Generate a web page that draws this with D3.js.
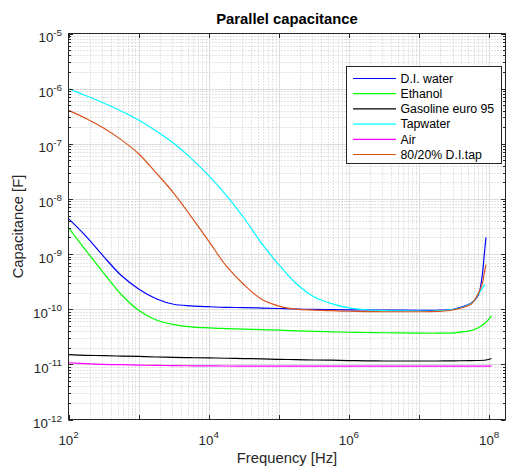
<!DOCTYPE html>
<html>
<head>
<meta charset="utf-8">
<script src="https://cdn.jsdelivr.net/npm/d3@7"></script>
<style>
  html, body { margin: 0; padding: 0; background: #fff; }
  svg { display: block; font-family: "Liberation Sans", Arial, Helvetica, sans-serif; }
</style>
</head>
<body>
<svg id="chart" width="511" height="466"></svg>
<script>
// Measurement frequencies shared by every sweep (Hz), four points per decade
const freqHz = [1e2, 1.78e2, 3.16e2, 5.62e2, 1e3, 1.78e3, 3.16e3, 5.62e3,
                1e4, 1.78e4, 3.16e4, 5.62e4, 1e5, 1.78e5, 3.16e5, 5.62e5,
                1e6, 1.78e6, 3.16e6, 5.62e6, 1e7, 1.78e7, 3.16e7, 5.62e7];

// Parallel capacitance (F) on the shared grid
const diWater  = [4.39e-9, 2.10e-9, 9.11e-10, 4.12e-10, 2.33e-10, 1.55e-10, 1.23e-10, 1.15e-10,
                  1.11e-10, 1.08e-10, 1.07e-10, 1.05e-10, 1.03e-10, 1.01e-10, 9.90e-11, 9.81e-11,
                  9.73e-11, 9.69e-11, 9.65e-11, 9.61e-11, 9.57e-11, 9.57e-11, 1.01e-10, 1.31e-10];
const ethanol  = [3.02e-9, 1.15e-9, 4.57e-10, 1.87e-10, 9.57e-11, 6.36e-11, 5.27e-11, 4.79e-11,
                  4.59e-11, 4.46e-11, 4.35e-11, 4.28e-11, 4.16e-11, 4.05e-11, 3.97e-11, 3.89e-11,
                  3.82e-11, 3.78e-11, 3.74e-11, 3.71e-11, 3.68e-11, 3.67e-11, 3.73e-11, 4.12e-11];
const gasoline = [1.50e-11, 1.46e-11, 1.44e-11, 1.41e-11, 1.39e-11, 1.36e-11, 1.34e-11, 1.32e-11,
                  1.31e-11, 1.29e-11, 1.27e-11, 1.26e-11, 1.23e-11, 1.22e-11, 1.20e-11, 1.19e-11,
                  1.17e-11, 1.16e-11, 1.15e-11, 1.15e-11, 1.15e-11, 1.15e-11, 1.16e-11, 1.17e-11];
const tapwater = [9.95e-7, 7.43e-7, 5.48e-7, 3.94e-7, 2.70e-7, 1.71e-7, 1.02e-7, 5.43e-8,
                  2.64e-8, 1.16e-8, 4.56e-9, 1.60e-9, 6.39e-10, 2.89e-10, 1.68e-10, 1.26e-10,
                  1.06e-10, 9.77e-11, 9.45e-11, 9.33e-11, 9.29e-11, 9.37e-11, 9.98e-11, 1.29e-10];
const air      = [1.07e-11, 1.03e-11, 1.00e-11, 9.85e-12, 9.69e-12, 9.57e-12, 9.49e-12, 9.41e-12,
                  9.37e-12, 9.33e-12, 9.29e-12, 9.29e-12, 9.26e-12, 9.26e-12, 9.26e-12, 9.26e-12,
                  9.26e-12, 9.26e-12, 9.26e-12, 9.26e-12, 9.26e-12, 9.26e-12, 9.26e-12, 9.26e-12];
const mix8020  = [4.03e-7, 2.88e-7, 1.93e-7, 1.19e-7, 6.61e-8, 2.97e-8, 1.28e-8, 4.79e-9,
                  1.72e-9, 6.08e-10, 2.81e-10, 1.53e-10, 1.14e-10, 1.00e-10, 9.65e-11, 9.41e-11,
                  9.18e-11, 9.07e-11, 8.99e-11, 8.99e-11, 8.99e-11, 9.10e-11, 9.77e-11, 1.26e-10];

// High-frequency end of each sweep (Hz, F)
const diWaterTailHz  = [7e7, 8e7, 8.5e7, 9e7];
const diWaterTail    = [1.79e-10, 4.30e-10, 9.5e-10, 2.01e-9];
const ethanolTailHz  = [7e7, 9e7, 1.08e8];
const ethanolTail    = [4.61e-11, 5.80e-11, 7.55e-11];
const gasolineTailHz = [9e7, 1.08e8];
const gasolineTail   = [1.20e-11, 1.28e-11];
const tapwaterTailHz = [7e7, 8e7, 8.7e7];
const tapwaterTail   = [1.87e-10, 2.40e-10, 2.80e-10];
const airTailHz      = [1.08e8];
const airTail        = [9.26e-12];
const mix8020TailHz  = [7e7, 8e7, 8.5e7, 9e7];
const mix8020Tail    = [1.95e-10, 2.95e-10, 4.48e-10, 6.44e-10];

const seriesNames  = ["D.I. water", "Ethanol", "Gasoline euro 95", "Tapwater", "Air", "80/20% D.I.tap"];
const seriesColors = ["#0000ff", "#00ff00", "#000000", "#00ffff", "#ff00ff", "#d95319"];

const xTickValues = [1e2, 1e4, 1e6, 1e8];
const xTickExps   = ["2", "4", "6", "8"];
const yTickValues = [1e-12, 1e-11, 1e-10, 1e-9, 1e-8, 1e-7, 1e-6, 1e-5];
const yTickExps   = ["-12", "-11", "-10", "-9", "-8", "-7", "-6", "-5"];

const series = [
  { f: freqHz.concat(diWaterTailHz),  c: diWater.concat(diWaterTail) },
  { f: freqHz.concat(ethanolTailHz),  c: ethanol.concat(ethanolTail) },
  { f: freqHz.concat(gasolineTailHz), c: gasoline.concat(gasolineTail) },
  { f: freqHz.concat(tapwaterTailHz), c: tapwater.concat(tapwaterTail) },
  { f: freqHz.concat(airTailHz),      c: air.concat(airTail) },
  { f: freqHz.concat(mix8020TailHz),  c: mix8020.concat(mix8020Tail) }
].map((s, i) => ({ name: seriesNames[i], color: seriesColors[i],
                   pts: s.f.map((f, j) => [f, s.c[j]]) }));

const pL = 68.5, pR = 505.5, pT = 33.5, pB = 419.5;
const svg = d3.select("#chart");
const axisColor = "#262626";

const x = d3.scaleLog().domain([1e2, 1.71e8]).range([pL, pR]);
const y = d3.scaleLog().domain([1e-12, 1e-5]).range([pB, pT]);

// Minor values (2..9 x decade) inside the axes
function minors(lo, hi) {
  const out = [];
  for (let e = Math.floor(Math.log10(lo)); e <= Math.ceil(Math.log10(hi)); e++) {
    for (let k = 2; k <= 9; k++) {
      const v = k * Math.pow(10, e);
      if (v > lo && v < hi) out.push(v);
    }
  }
  return out;
}
const xMinor = minors(1e2, 1.71e8);
const yMinor = minors(1e-12, 1e-5);
const xMajor = [1e2, 1e3, 1e4, 1e5, 1e6, 1e7, 1e8];

const grid = svg.append("g");
// minor grid, dotted
grid.selectAll(".xm").data(xMinor).enter().append("line")
  .attr("x1", d => Math.round(x(d)) + 0.5).attr("x2", d => Math.round(x(d)) + 0.5)
  .attr("y1", pT).attr("y2", pB)
  .attr("stroke", "#c9c9c9").attr("stroke-dasharray", "1,2");
grid.selectAll(".ym").data(yMinor).enter().append("line")
  .attr("y1", d => Math.round(y(d)) + 0.5).attr("y2", d => Math.round(y(d)) + 0.5)
  .attr("x1", pL).attr("x2", pR)
  .attr("stroke", "#c9c9c9").attr("stroke-dasharray", "1,2");
// major grid, solid
grid.selectAll(".xM").data(xMajor.filter(v => v > 1e2)).enter().append("line")
  .attr("x1", d => Math.round(x(d)) + 0.5).attr("x2", d => Math.round(x(d)) + 0.5)
  .attr("y1", pT).attr("y2", pB)
  .attr("stroke", "#dcdcdc").attr("stroke-width", 1);
grid.selectAll(".yM").data(yTickValues.slice(1, -1)).enter().append("line")
  .attr("y1", d => Math.round(y(d)) + 0.5).attr("y2", d => Math.round(y(d)) + 0.5)
  .attr("x1", pL).attr("x2", pR)
  .attr("stroke", "#dcdcdc").attr("stroke-width", 1);

// data lines, smooth through every measured point
const line = d3.line()
  .x(d => x(d[0])).y(d => y(d[1]))
  .curve(d3.curveCatmullRom.alpha(0.5));
svg.append("g").selectAll("path").data(series).enter().append("path")
  .attr("d", d => line(d.pts))
  .attr("fill", "none")
  .attr("stroke", d => d.color)
  .attr("stroke-width", 1.2)
  .attr("stroke-linejoin", "round");

// axes box and inward ticks
const ax = svg.append("g").attr("stroke", axisColor).attr("fill", "none");
ax.append("rect").attr("x", pL).attr("y", pT)
  .attr("width", pR - pL).attr("height", pB - pT).attr("stroke-width", 1);
const maj = 4.5, mnr = 2.5;
xMajor.forEach(v => {
  const px = Math.round(x(v)) + 0.5;
  ax.append("line").attr("x1", px).attr("x2", px).attr("y1", pB).attr("y2", pB - maj);
  ax.append("line").attr("x1", px).attr("x2", px).attr("y1", pT).attr("y2", pT + maj);
});
yTickValues.forEach(v => {
  const py = Math.round(y(v)) + 0.5;
  ax.append("line").attr("y1", py).attr("y2", py).attr("x1", pL).attr("x2", pL + maj);
  ax.append("line").attr("y1", py).attr("y2", py).attr("x1", pR).attr("x2", pR - maj);
});
yMinor.forEach(v => {
  const py = Math.round(y(v)) + 0.5;
  ax.append("line").attr("y1", py).attr("y2", py).attr("x1", pL).attr("x2", pL + mnr);
  ax.append("line").attr("y1", py).attr("y2", py).attr("x1", pR).attr("x2", pR - mnr);
});

// tick labels: 10 with superscript exponent
const tl = svg.append("g").attr("fill", axisColor);
yTickValues.forEach((v, i) => {
  const t = tl.append("text").attr("x", 62).attr("y", y(v) + 8.5)
    .attr("text-anchor", "end").attr("font-size", 13.3);
  t.append("tspan").text("10");
  t.append("tspan").attr("dy", -6.5).attr("font-size", 9.8).text(yTickExps[i]);
});
xTickValues.forEach((v, i) => {
  const t = tl.append("text").attr("x", x(v)).attr("y", 444.5)
    .attr("text-anchor", "middle").attr("font-size", 13.3);
  t.append("tspan").text("10");
  t.append("tspan").attr("dy", -6.5).attr("font-size", 9.8).text(xTickExps[i]);
});

// title and axis labels
svg.append("text").attr("x", (pL + pR) / 2).attr("y", 24)
  .attr("text-anchor", "middle").attr("font-size", 14.8).attr("font-weight", "bold")
  .attr("fill", "#000").text("Parallel capacitance");
svg.append("text").attr("x", (pL + pR) / 2).attr("y", 463)
  .attr("text-anchor", "middle").attr("font-size", 14.8)
  .attr("fill", axisColor).text("Frequency [Hz]");
svg.append("text")
  .attr("transform", `translate(23,${(pT + pB) / 2}) rotate(-90)`)
  .attr("text-anchor", "middle").attr("font-size", 14.8)
  .attr("fill", axisColor).text("Capacitance [F]");

// legend
const lg = svg.append("g");
lg.append("rect").attr("x", 346.5).attr("y", 66.5).attr("width", 155).attr("height", 97)
  .attr("fill", "#fff").attr("stroke", axisColor).attr("stroke-width", 1);
series.forEach((s, i) => {
  const yy = 78.5 + i * 15.2;
  lg.append("line").attr("x1", 353).attr("x2", 396).attr("y1", yy).attr("y2", yy)
    .attr("stroke", s.color).attr("stroke-width", 1.2);
  lg.append("text").attr("x", 400.5).attr("y", yy + 4.3)
    .attr("font-size", 12.3).attr("fill", "#000").text(s.name);
});
</script>
</body>
</html>
